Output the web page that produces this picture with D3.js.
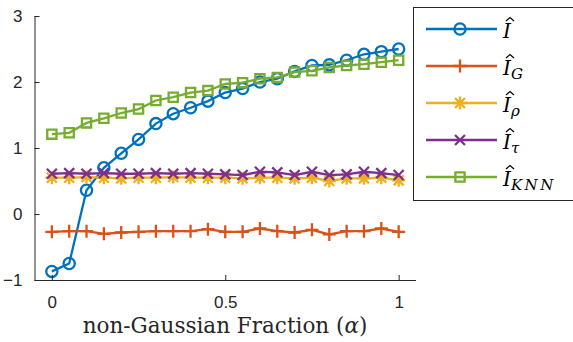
<!DOCTYPE html>
<html>
<head>
<meta charset="utf-8">
<script src="https://cdn.jsdelivr.net/npm/d3@7"></script>
<style>
  body { margin: 0; background: #fff; }
  svg { display: block; }
  .tick text { font-family: 'Liberation Sans', Arial, sans-serif; font-size: 17px; fill: #262626; }
</style>
</head>
<body>
<svg class="chart" width="573" height="342"></svg>
<script>
const alphas = [0, 0.05, 0.1, 0.15, 0.2, 0.25, 0.3, 0.35, 0.4, 0.45, 0.5,
  0.55, 0.6, 0.65, 0.7, 0.75, 0.8, 0.85, 0.9, 0.95, 1];
const iHat = [-0.87, -0.75, 0.36, 0.70, 0.92, 1.13, 1.37, 1.52, 1.61, 1.71, 1.84,
  1.90, 2.00, 2.05, 2.16, 2.25, 2.26, 2.33, 2.42, 2.46, 2.50];
const iGauss = [-0.27, -0.26, -0.26, -0.30, -0.28, -0.27, -0.26, -0.26, -0.26, -0.23, -0.27,
  -0.27, -0.22, -0.26, -0.28, -0.24, -0.31, -0.26, -0.26, -0.22, -0.27];
const iRho = [0.55, 0.55, 0.56, 0.55, 0.54, 0.55, 0.55, 0.56, 0.55, 0.55, 0.55,
  0.54, 0.55, 0.55, 0.54, 0.55, 0.50, 0.54, 0.54, 0.55, 0.51];
const iTau = [0.61, 0.62, 0.61, 0.62, 0.61, 0.61, 0.62, 0.61, 0.62, 0.61, 0.60,
  0.59, 0.64, 0.63, 0.59, 0.64, 0.59, 0.60, 0.64, 0.62, 0.59];
const iKnn = [1.21, 1.23, 1.38, 1.45, 1.53, 1.59, 1.72, 1.77, 1.84, 1.87, 1.97,
  1.99, 2.05, 2.07, 2.15, 2.17, 2.22, 2.25, 2.27, 2.30, 2.33];
const yTicks = [-1, 0, 1, 2, 3];
const xTicks = [0, 0.5, 1];
const xTickLabels = ['0', '0.5', '1'];

const series = [
  { values: iHat, color: '#0072BD', marker: 'circle', sub: '' },
  { values: iGauss, color: '#D95319', marker: 'plus', sub: 'G' },
  { values: iRho, color: '#EDB120', marker: 'star', sub: 'ρ' },
  { values: iTau, color: '#7E2F8E', marker: 'cross', sub: 'τ' },
  { values: iKnn, color: '#77AC30', marker: 'square', sub: 'KNN' },
];

const serif = "'DejaVu Serif', 'Liberation Serif', serif";

const markerPath = (type) => {
  const p = d3.path();
  const s = 6.5;
  const d = 5;
  if (type === 'circle') {
    p.moveTo(5.6, 0); p.arc(0, 0, 5.6, 0, 2 * Math.PI);
  } else if (type === 'plus') {
    p.moveTo(-s, 0); p.lineTo(s, 0); p.moveTo(0, -s); p.lineTo(0, s);
  } else if (type === 'cross') {
    p.moveTo(-d, -d); p.lineTo(d, d); p.moveTo(-d, d); p.lineTo(d, -d);
  } else if (type === 'star') {
    p.moveTo(-s, 0); p.lineTo(s, 0); p.moveTo(0, -s); p.lineTo(0, s);
    p.moveTo(-d, -d); p.lineTo(d, d); p.moveTo(-d, d); p.lineTo(d, -d);
  } else {
    p.rect(-4.6, -4.6, 9.2, 9.2);
  }
  return p.toString();
};

const svg = d3.select('.chart');
const x = d3.scaleLinear().domain([-0.05, 1.05]).range([34.5, 416]);
const y = d3.scaleLinear().domain([-1, 3]).range([280, 16]);

const line = d3.line().x((v, i) => x(alphas[i])).y(v => y(v));

series.forEach((s) => {
  svg.append('path')
    .attr('d', line(s.values))
    .attr('fill', 'none')
    .attr('stroke', s.color)
    .attr('stroke-width', 2.3);
  svg.append('g').selectAll('path')
    .data(s.values)
    .enter()
    .append('path')
    .attr('transform', (v, i) => `translate(${x(alphas[i])},${y(v)})`)
    .attr('d', markerPath(s.marker))
    .attr('fill', 'none')
    .attr('stroke', s.color)
    .attr('stroke-width', 2.3);
});

// axes (MATLAB style: ticks inward, left and bottom only)
const xAxis = d3.axisBottom(x).tickValues(xTicks).tickSize(-5).tickPadding(14)
  .tickFormat((v, i) => xTickLabels[i]);
const yAxis = d3.axisLeft(y).tickValues(yTicks).tickSize(-5).tickPadding(12)
  .tickFormat(d3.format('d'));

const gx = svg.append('g').attr('transform', 'translate(0,280)').call(xAxis);
const gy = svg.append('g').attr('transform', 'translate(34.5,0)').call(yAxis);
[gx, gy].forEach((g) => {
  g.select('.domain').attr('stroke', '#262626');
  g.selectAll('.tick line').attr('stroke', '#262626');
});
gy.select('.domain').attr('d', 'M0.5,280V16');
gx.select('.domain').attr('d', 'M34.5,0.5H416');
gx.selectAll('.tick text').attr('dy', '0.85em');

const xLabel = svg.append('text')
  .attr('x', 225)
  .attr('y', 333)
  .attr('text-anchor', 'middle')
  .style('font-family', serif)
  .style('font-size', '21.5px')
  .attr('fill', '#262626');
xLabel.append('tspan').text('non-Gaussian Fraction (');
xLabel.append('tspan').style('font-style', 'italic').text('α');
xLabel.append('tspan').text(')');

// legend
const legend = svg.append('g');
legend.append('rect')
  .attr('x', 413.5).attr('y', 7.5)
  .attr('width', 170).attr('height', 193)
  .attr('fill', '#fff')
  .attr('stroke', '#262626')
  .attr('stroke-width', 1);

series.forEach((s, i) => {
  const ly = 29 + i * 37;
  const row = legend.append('g').attr('transform', `translate(0,${ly})`);
  row.append('line')
    .attr('x1', 426).attr('x2', 497).attr('y1', 0).attr('y2', 0)
    .attr('stroke', s.color).attr('stroke-width', 2.3);
  row.append('path')
    .attr('transform', 'translate(460,0)')
    .attr('d', markerPath(s.marker))
    .attr('fill', 'none').attr('stroke', s.color).attr('stroke-width', 2.3);
  const t = row.append('text')
    .attr('x', 503).attr('y', 9)
    .style('font-family', serif)
    .style('font-size', '20px')
    .attr('fill', '#000');
  t.append('tspan').style('font-style', 'italic').text('I');
  if (s.sub) {
    t.append('tspan')
      .attr('dy', 4)
      .style('font-style', 'italic')
      .style('font-size', '15px')
      .attr('letter-spacing', s.sub === 'KNN' ? 2.5 : 0)
      .text(s.sub);
  }
  // hat accent over the I
  row.append('path')
    .attr('d', 'M506,-8L510,-11.5L514,-8')
    .attr('fill', 'none')
    .attr('stroke', '#000')
    .attr('stroke-width', 1.2);
});
</script>
</body>
</html>
